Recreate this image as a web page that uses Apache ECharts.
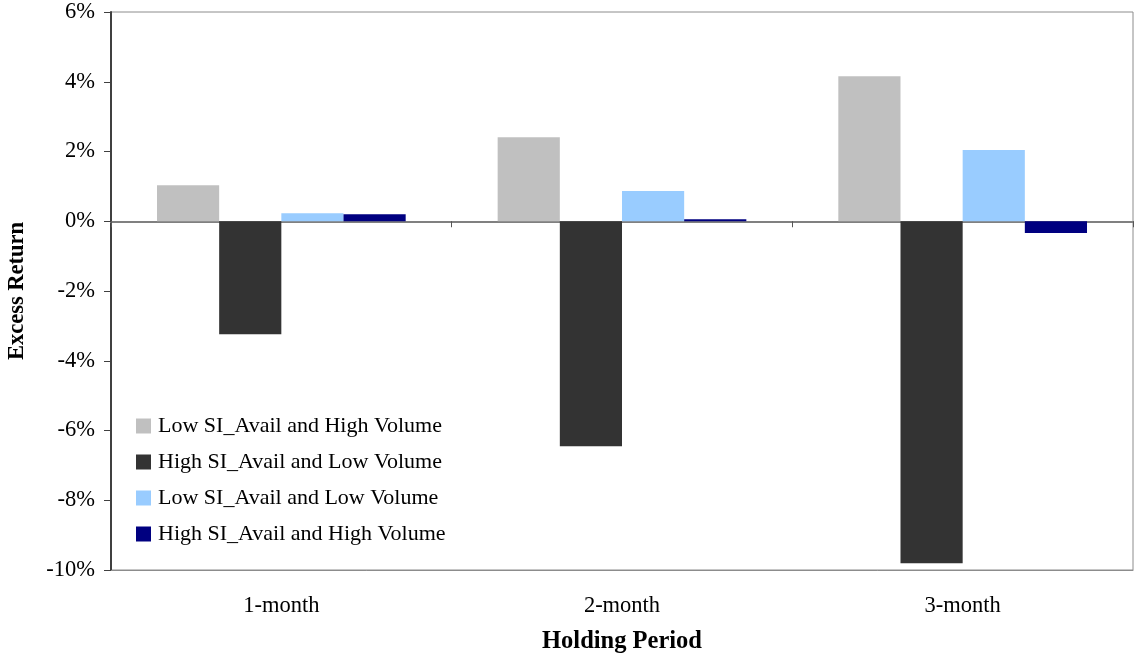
<!DOCTYPE html>
<html>
<head>
<meta charset="utf-8">
<script src="https://cdn.jsdelivr.net/npm/echarts@6/dist/echarts.min.js"></script>
<style>
  html, body { margin: 0; padding: 0; background: #fff; }
  #chart { width: 1134px; height: 656px; }
</style>
</head>
<body>
<div id="chart"></div>
<script>
// Holding periods on the horizontal axis
const periods = ['1-month', '2-month', '3-month'];

// Excess returns (%) per portfolio group
const lowSiHighVol = [1.03, 2.41, 4.16];
const highSiLowVol = [-3.24, -6.45, -9.81];
const lowSiLowVol = [0.23, 0.87, 2.04];
const highSiHighVol = [0.20, 0.06, -0.34];

const seriesNames = [
  'Low SI_Avail and High Volume',
  'High SI_Avail and Low Volume',
  'Low SI_Avail and Low Volume',
  'High SI_Avail and High Volume'
];
const seriesColors = ['#C0C0C0', '#333333', '#99CCFF', '#000080'];
const seriesValues = [lowSiHighVol, highSiLowVol, lowSiLowVol, highSiHighVol];

const serif = '"Liberation Serif", "Times New Roman", serif';

const chart = echarts.init(document.getElementById('chart'), null, { renderer: 'canvas' });

chart.setOption({
  animation: false,
  backgroundColor: '#ffffff',
  textStyle: { fontFamily: serif },
  grid: {
    left: 111, right: 1, top: 12, bottom: 86,
    outerBoundsMode: 'none',
    containLabel: false,
    show: true, borderColor: '#8c8c8c', borderWidth: 1, backgroundColor: 'transparent'
  },
  legend: {
    orient: 'vertical',
    left: 136, top: 415,
    padding: 0,
    itemWidth: 15, itemHeight: 15, itemGap: 14,
    icon: 'rect',
    textStyle: { fontFamily: serif, fontSize: 22, color: '#000', padding: [0, 0, 0, 2] },
    data: seriesNames
  },
  xAxis: [
    {
      type: 'category',
      data: periods,
      position: 'bottom',
      axisLine: { onZero: false, lineStyle: { color: '#8c8c8c', width: 1 } },
      axisTick: { show: false },
      axisLabel: { fontFamily: serif, fontSize: 22.5, color: '#000', margin: 25 },
      name: 'Holding Period',
      nameLocation: 'middle',
      nameGap: 59,
      nameTextStyle: { fontFamily: serif, fontSize: 24.5, fontWeight: 'bold', color: '#000' }
    },
    {
      type: 'category',
      data: periods,
      position: 'bottom',
      axisLine: { onZero: true, lineStyle: { color: '#808080', width: 2 } },
      axisTick: { show: true, length: 6, lineStyle: { color: '#555' } },
      axisLabel: { show: false }
    }
  ],
  yAxis: {
    type: 'value',
    min: -10, max: 6, interval: 2,
    axisLine: { show: true, lineStyle: { color: '#404040', width: 2 } },
    axisTick: { show: true, length: 7, lineStyle: { color: '#404040' } },
    splitLine: { show: false },
    axisLabel: {
      fontFamily: serif, fontSize: 22.5, color: '#000', margin: 16,
      formatter: v => v + '%'
    },
    name: 'Excess Return',
    nameLocation: 'middle',
    nameGap: 82,
    nameRotate: 90,
    nameTextStyle: { fontFamily: serif, fontSize: 22.5, fontWeight: 'bold', color: '#000' }
  },
  series: seriesNames.map((name, i) => ({
    name,
    type: 'bar',
    xAxisIndex: 0,
    data: seriesValues[i],
    itemStyle: { color: seriesColors[i] },
    barGap: '0%',
    barCategoryGap: '27%'
  }))
});
</script>
</body>
</html>
